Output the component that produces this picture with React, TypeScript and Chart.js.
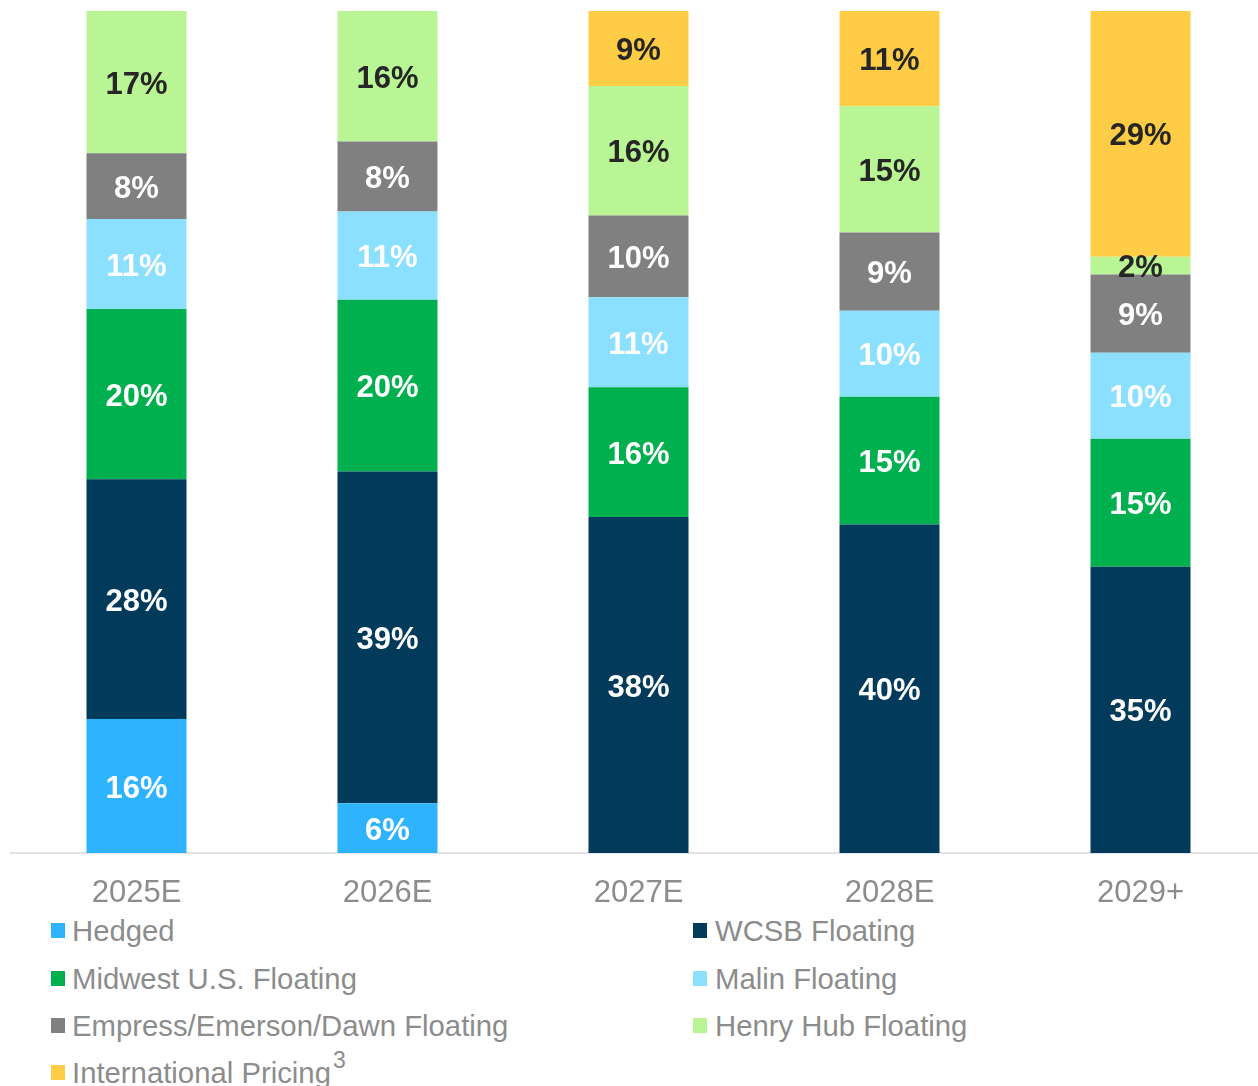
import React, { useEffect, useRef } from "react";
import { Chart, registerables } from "chart.js";

Chart.register(...registerables);

const categories = ["2025E", "2026E", "2027E", "2028E", "2029+"];

const seriesNames = [
  "Hedged",
  "WCSB Floating",
  "Midwest U.S. Floating",
  "Malin Floating",
  "Empress/Emerson/Dawn Floating",
  "Henry Hub Floating",
  "International Pricing",
];

const hedged = [15.9, 5.9, 0, 0, 0];
const wcsb = [28.5, 39.4, 39.9, 39.0, 34.0];
const midwest = [20.2, 20.4, 15.4, 15.2, 15.2];
const malin = [10.7, 10.5, 10.7, 10.2, 10.2];
const empress = [7.8, 8.3, 9.7, 9.3, 9.3];
const henryHub = [16.9, 15.5, 15.4, 15.0, 2.1];
const international = [0, 0, 8.9, 11.3, 29.2];

const hedgedLabels = ["16%", "6%", "", "", ""];
const wcsbLabels = ["28%", "39%", "38%", "40%", "35%"];
const midwestLabels = ["20%", "20%", "16%", "15%", "15%"];
const malinLabels = ["11%", "11%", "11%", "10%", "10%"];
const empressLabels = ["8%", "8%", "10%", "9%", "9%"];
const henryHubLabels = ["17%", "16%", "16%", "15%", "2%"];
const internationalLabels = ["", "", "9%", "11%", "29%"];

const colors = ["#2EB4FF", "#023A5B", "#00B04F", "#8CE0FF", "#808080", "#BAF595", "#FFCD45"];
const labelColors = ["#ffffff", "#ffffff", "#ffffff", "#ffffff", "#ffffff", "#262626", "#262626"];

const FONT = '"Liberation Sans", Arial, Helvetica, sans-serif';
const TEXT_GRAY = "#8c8c8c";

const seriesValues = [hedged, wcsb, midwest, malin, empress, henryHub, international];
const seriesLabels = [hedgedLabels, wcsbLabels, midwestLabels, malinLabels, empressLabels, henryHubLabels, internationalLabels];

const segmentLabelPlugin = {
  id: "segmentLabels",
  afterDatasetsDraw(chart: any) {
    const ctx = chart.ctx;
    ctx.save();
    ctx.font = `bold 31px ${FONT}`;
    ctx.textAlign = "center";
    ctx.textBaseline = "middle";
    chart.data.datasets.forEach((ds: any, di: number) => {
      const meta = chart.getDatasetMeta(di);
      meta.data.forEach((bar: any, i: number) => {
        const txt = seriesLabels[di][i];
        if (!txt) return;
        const cy = (bar.y + bar.base) / 2;
        ctx.fillStyle = labelColors[di];
        ctx.fillText(txt, bar.x, cy + 3);
      });
    });
    ctx.restore();
  },
};

const legendItems = [
  { i: 0, col: 0, row: 0 },
  { i: 1, col: 1, row: 0 },
  { i: 2, col: 0, row: 1 },
  { i: 3, col: 1, row: 1 },
  { i: 4, col: 0, row: 2 },
  { i: 5, col: 1, row: 2 },
  { i: 6, col: 0, row: 3 },
];
const rowCenters = [931, 978.5, 1026, 1073];
const colSquareX = [51, 693];
const colTextX = [72, 715];

export default function App() {
  const canvasRef = useRef<HTMLCanvasElement | null>(null);

  useEffect(() => {
    if (!canvasRef.current) return;
    const chart = new Chart(canvasRef.current, {
      type: "bar",
      data: {
        labels: categories,
        datasets: seriesNames.map((name, i) => ({
          label: name,
          data: seriesValues[i],
          backgroundColor: colors[i],
          borderWidth: 0,
          categoryPercentage: 1,
          barPercentage: 0.3984,
        })),
      },
      options: {
        responsive: false,
        animation: false,
        devicePixelRatio: 1,
        layout: { padding: { left: 11, right: 0, top: 11, bottom: 0 } },
        plugins: {
          legend: { display: false },
          tooltip: { enabled: false },
          title: { display: false },
        },
        scales: {
          x: {
            stacked: true,
            grid: { display: false, drawTicks: false },
            border: { display: true, color: "#e2e2e2", width: 2 },
            ticks: {
              color: TEXT_GRAY,
              font: { family: FONT, size: 31 },
              padding: 22,
              maxRotation: 0,
              autoSkip: false,
            },
            afterFit: (scale: any) => {
              scale.height = 57;
            },
          },
          y: {
            stacked: true,
            display: false,
            min: 0,
            max: 100,
          },
        },
      },
      plugins: [segmentLabelPlugin],
    });
    return () => chart.destroy();
  }, []);

  return (
    <div
      style={{
        position: "absolute",
        left: 0,
        top: 0,
        width: 1258,
        height: 1086,
        overflow: "hidden",
        background: "#ffffff",
      }}
    >
      <canvas
        ref={canvasRef}
        width={1266}
        height={910}
        style={{ position: "absolute", left: 0, top: 0, width: 1266, height: 910 }}
      />
      {legendItems.map(({ i, col, row }) => (
        <React.Fragment key={i}>
          <div
            style={{
              position: "absolute",
              left: colSquareX[col],
              top: rowCenters[row] - 8,
              width: 14,
              height: 15,
              background: colors[i],
            }}
          />
          <div
            style={{
              position: "absolute",
              left: colTextX[col],
              top: rowCenters[row] - 17,
              height: 34,
              lineHeight: "34px",
              fontFamily: FONT,
              fontSize: 29.3,
              color: TEXT_GRAY,
              whiteSpace: "nowrap",
            }}
          >
            {seriesNames[i]}
            {i === 6 ? (
              <span style={{ fontSize: 23, position: "relative", top: -15, marginLeft: 2 }}>3</span>
            ) : null}
          </div>
        </React.Fragment>
      ))}
    </div>
  );
}
